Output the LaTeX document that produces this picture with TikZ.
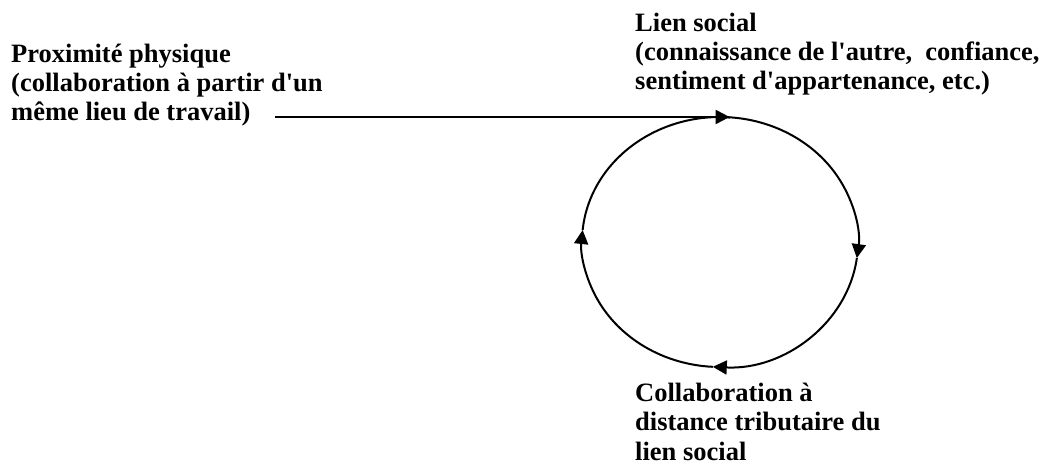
\documentclass[tikz,border=0pt]{standalone}
\usepackage{fontspec}
\setmainfont{Liberation Serif}
\usetikzlibrary{arrows.meta,calc}
\begin{document}
\begin{tikzpicture}[x=1pt,y=1pt,
  lbl/.style={anchor=base west,align=left,inner sep=0pt,
    font=\fontsize{26.5}{29.3}\selectfont\bfseries},
  conn/.style={line width=2pt,-{Triangle[length=14pt,width=14pt]}},
  ring/.style={line width=2pt}]
\useasboundingbox (0,0) rectangle (1048,471);
% texts (base anchor = baseline of last line)
\node[lbl] (prox) at (11,350) {Proximit\'e physique\\(collaboration \`a partir d\textquotesingle un\\m\^eme lieu de travail)};
\node[lbl] (lien) at (635,381) {Lien social\\(connaissance de l\textquotesingle autre,\ \ confiance,\\sentiment d\textquotesingle appartenance, etc.)};
\node[lbl] (collab) at (635,11) {Collaboration \`a\\distance tributaire du\\lien social};
% cycle
\coordinate (c) at (720,229);
\coordinate (start) at (275,354);
\coordinate (top) at ($(c)+(86:138 and 125)$);
\draw[conn] (start) -- (start -| top);
\draw[ring] (c) ++(86:138 and 125) arc[start angle=86,end angle=90,x radius=138,y radius=125];
\draw[conn] (c) ++(90:138 and 125) arc[start angle=90,end angle=-7.4,x radius=138,y radius=125];
\draw[conn] (c) ++(-7.4:138 and 125) arc[start angle=-7.4,end angle=-93,x radius=138,y radius=125];
\draw[conn] (c) ++(-93:138 and 125) arc[start angle=-93,end angle=-185.5,x radius=138,y radius=125];
\draw[ring] (c) ++(174.5:138 and 125) arc[start angle=174.5,end angle=86,x radius=138,y radius=125];
\end{tikzpicture}
\end{document}
